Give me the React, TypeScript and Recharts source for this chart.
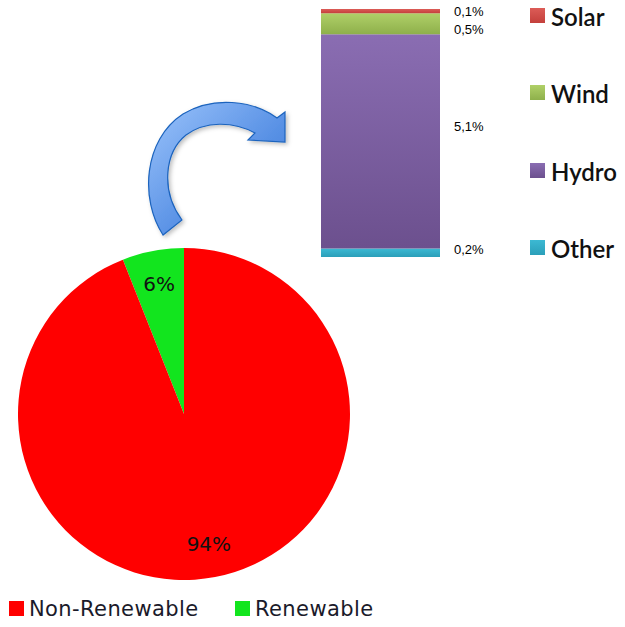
import React from "react";
import { Bar, BarChart, Cell, LabelList, Pie, PieChart, XAxis, YAxis } from "recharts";

// share of total energy, %
const pieNames = ["Non-Renewable", "Renewable"];
const pieShares = [94, 6];
const pieColors = ["#ff0000", "#12e51e"];

// renewable breakdown, bottom to top of the stacked column
const sourceNames = ["Other", "Hydro", "Wind", "Solar"];
const sourceShares = [0.2, 5.1, 0.5, 0.1];
const sourceColors = [
  ["#3cb9d3", "#2b9fb9"],
  ["#8a6db2", "#6c508e"],
  ["#b0d068", "#8eb04b"],
  ["#dc5c57", "#c4403c"],
];
const sourceLabelShift = [-3, -15, 6, 0];

const RAD = Math.PI / 180;

// pie starts at 12 o'clock, Renewable first going counter-clockwise
const pieData = pieNames
  .map((name, i) => ({ name, value: pieShares[i], color: pieColors[i] }))
  .reverse();

const barRow: Record<string, number | string> = { name: "Renewable" };
sourceNames.forEach((s, i) => (barRow[s] = sourceShares[i]));
const barData = [barRow];
const barTotal = sourceShares.reduce((a, b) => a + b, 0);

const fmt = (v: number) => `${v.toFixed(1).replace(".", ",")}%`;

function PieLabel(props: any) {
  const { cx, cy, midAngle, outerRadius, value } = props;
  const r = outerRadius * 0.8;
  const x = cx + r * Math.cos(-midAngle * RAD);
  const y = cy + r * Math.sin(-midAngle * RAD);
  return (
    <text x={x} y={y} textAnchor="middle" dominantBaseline="central" fill="#111" fontSize={20} fontFamily="DejaVu Sans">
      {value}%
    </text>
  );
}

function makeBarLabel(shift: number) {
  return (props: any) => {
    const { x, y, width, height, value } = props;
    return (
      <text x={x + width + 14} y={y + height / 2 + shift} dominantBaseline="central" fill="#000" fontSize={13} fontFamily="Liberation Sans">
        {fmt(value)}
      </text>
    );
  };
}

export default function App() {
  return (
    <div style={{ position: "absolute", left: 0, top: 0, width: 625, height: 627, background: "#fff", overflow: "hidden" }}>
      <div style={{ position: "absolute", left: 0, top: 0 }}>
        <PieChart width={370} height={600} margin={{ top: 0, right: 0, bottom: 0, left: 0 }}>
          <Pie
            data={pieData}
            dataKey="value"
            nameKey="name"
            cx={184}
            cy={414}
            outerRadius={166}
            startAngle={90}
            endAngle={450}
            stroke="none"
            labelLine={false}
            label={PieLabel}
            isAnimationActive={false}
          >
            {pieData.map((d) => (
              <Cell key={d.name} fill={d.color} />
            ))}
          </Pie>
        </PieChart>
      </div>

      <div style={{ position: "absolute", left: 300, top: 0 }}>
        <BarChart width={220} height={270} data={barData} margin={{ top: 9, right: 80, bottom: 13, left: 21 }} barCategoryGap={0}>
          <defs>
            {sourceNames.map((s, i) => (
              <linearGradient key={s} id={`grad-${s}`} x1="0" y1="0" x2="0" y2="1">
                <stop offset="0%" stopColor={sourceColors[i][0]} />
                <stop offset="100%" stopColor={sourceColors[i][1]} />
              </linearGradient>
            ))}
          </defs>
          <XAxis dataKey="name" hide />
          <YAxis hide domain={[0, barTotal]} />
          {sourceNames.map((s, i) => (
            <Bar key={s} dataKey={s} stackId="mix" fill={`url(#grad-${s})`} isAnimationActive={false}>
              <LabelList dataKey={s} content={makeBarLabel(sourceLabelShift[i])} />
            </Bar>
          ))}
        </BarChart>
      </div>

      {/* curved arrow from the pie up to the breakdown column */}
      <svg width={625} height={627} style={{ position: "absolute", left: 0, top: 0, pointerEvents: "none" }}>
        <defs>
          <linearGradient id="arrowFill" x1="0" y1="0" x2="1" y2="1">
            <stop offset="0%" stopColor="#9cc4fb" />
            <stop offset="55%" stopColor="#5b93e6" />
            <stop offset="100%" stopColor="#2e6fd1" />
          </linearGradient>
          <filter id="arrowShadow" x="-20%" y="-20%" width="140%" height="140%">
            <feDropShadow dx="2" dy="2" stdDeviation="2" floodColor="#000" floodOpacity="0.25" />
          </filter>
        </defs>
        <path
          d="M163,235 C140,200 143,140 183,114 C213,96 252,100 277,118 L285,112 L285,142 L248,140 L255,133 C233,121 205,121 186,135 C165,152 160,190 182,220 Z"
          fill="url(#arrowFill)"
          stroke="#1b63bd"
          strokeWidth={1.2}
          filter="url(#arrowShadow)"
        />
      </svg>

      {/* breakdown legend */}
      {[...sourceNames].reverse().map((s, k) => {
        const i = sourceNames.length - 1 - k;
        return (
          <div key={s} style={{ position: "absolute", left: 530, top: 8 + k * 77.4, display: "flex", alignItems: "center", height: 15 }}>
            <div style={{ width: 15, height: 15, background: `linear-gradient(${sourceColors[i][0]}, ${sourceColors[i][1]})` }} />
            <span style={{ marginLeft: 6, fontFamily: "Lato", fontSize: 24, fontWeight: 600, color: "#111", lineHeight: "15px", position: "relative", top: 1 }}>{s}</span>
          </div>
        );
      })}

      {/* pie legend */}
      {pieNames.map((n, i) => (
        <div key={n} style={{ position: "absolute", left: 9 + i * 226, top: 601, display: "flex", alignItems: "center", height: 15 }}>
          <div style={{ width: 15, height: 15, background: pieColors[i] }} />
          <span style={{ marginLeft: 5, fontFamily: "DejaVu Sans", fontSize: 21, letterSpacing: 0.4, color: "#1a1a2a", lineHeight: "15px", position: "relative", top: 1 }}>{n}</span>
        </div>
      ))}
    </div>
  );
}
